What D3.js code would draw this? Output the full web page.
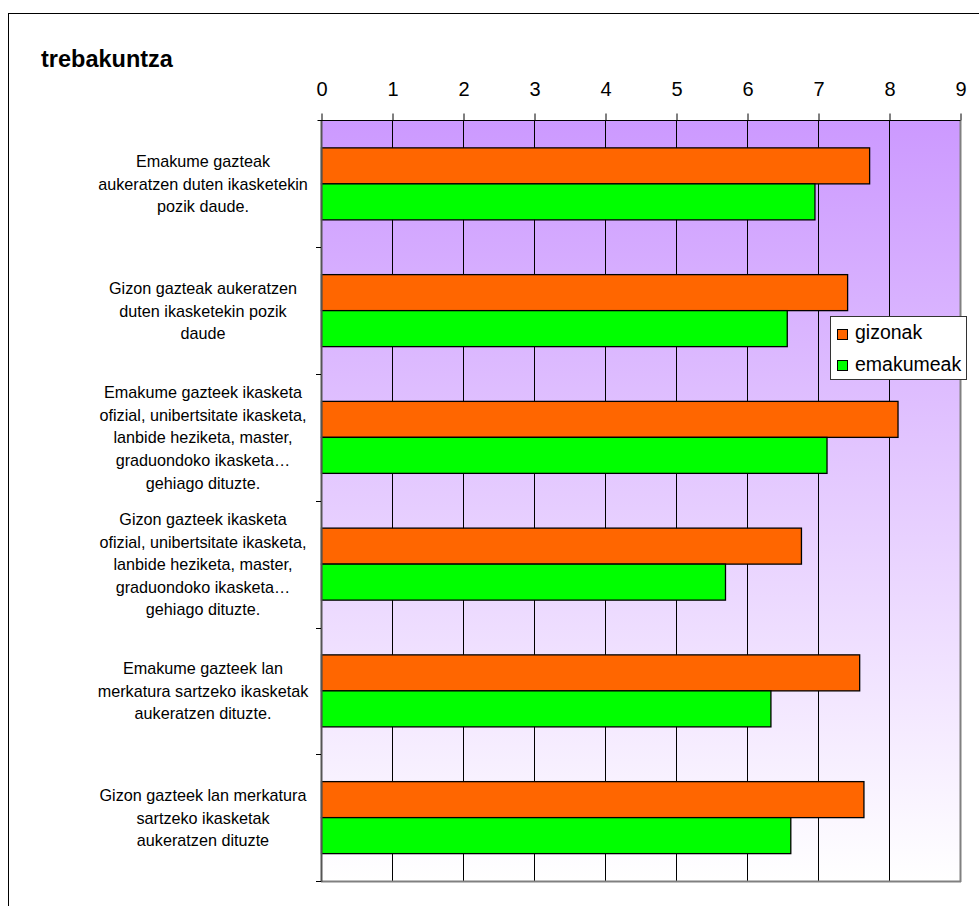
<!DOCTYPE html>
<html><head><meta charset="utf-8">
<script src="https://cdn.jsdelivr.net/npm/d3@7/dist/d3.min.js"></script>
<style>body{margin:0;background:#fff}svg{display:block;font-family:"Liberation Sans",Arial,sans-serif}</style>
</head><body>
<script>
const title = "trebakuntza";
const categories = [
  ["Emakume gazteak","aukeratzen duten ikasketekin","pozik daude."],
  ["Gizon gazteak aukeratzen","duten ikasketekin pozik","daude"],
  ["Emakume gazteek ikasketa","ofizial, unibertsitate ikasketa,","lanbide heziketa, master,","graduondoko ikasketa…","gehiago dituzte."],
  ["Gizon gazteek ikasketa","ofizial, unibertsitate ikasketa,","lanbide heziketa, master,","graduondoko ikasketa…","gehiago dituzte."],
  ["Emakume gazteek lan","merkatura sartzeko ikasketak","aukeratzen dituzte."],
  ["Gizon gazteek lan merkatura","sartzeko ikasketak","aukeratzen dituzte"]
];
const seriesNames = ["gizonak","emakumeak"];
const gizonak   = [7.72, 7.41, 8.12, 6.76, 7.58, 7.64];
const emakumeak = [6.95, 6.56, 7.12, 5.69, 6.33, 6.61];
const xTicks = [0,1,2,3,4,5,6,7,8,9];
const colors = ["#FF6600","#00FF00"];

(function(){
const W = 979, H = 906;
const pL = 321, pR = 960, pT = 120.5, pB = 881;

const svg = d3.select("body").append("svg").attr("width",W).attr("height",H);
const defs = svg.append("defs");
const grad = defs.append("linearGradient").attr("id","bg").attr("x1",0).attr("y1",0).attr("x2",0).attr("y2",1);
grad.append("stop").attr("offset","0%").attr("stop-color","#CC99FF");
grad.append("stop").attr("offset","100%").attr("stop-color","#FFFFFF");

// outer frame
svg.append("rect").attr("x",8.5).attr("y",13.5).attr("width",1200).attr("height",1200)
  .attr("fill","none").attr("stroke","#000").attr("stroke-width",1);

svg.append("text").attr("x",41).attr("y",67).text(title)
  .attr("font-weight","bold").attr("font-size",23.5).attr("fill","#000");

const x = d3.scaleLinear().domain([0,9]).range([pL,pR]);
const idx = categories.map((d,i)=>i);
const y = d3.scaleBand().domain(idx).range([pT,pB]).paddingInner(0).paddingOuter(0);

// background
svg.append("rect").attr("x",pL).attr("y",pT).attr("width",pR-pL).attr("height",pB-pT).attr("fill","url(#bg)");

// gridlines
svg.append("g").selectAll("line").data(xTicks.filter(t=>t>0 && t<9)).join("line")
  .attr("x1",d=>Math.round(x(d))+0.5).attr("x2",d=>Math.round(x(d))+0.5)
  .attr("y1",pT).attr("y2",pB).attr("stroke","#000").attr("stroke-width",1);

// plot border right & bottom
svg.append("line").attr("x1",pR+0.5).attr("x2",pR+0.5).attr("y1",pT).attr("y2",pB+1).attr("stroke","#808080").attr("stroke-width",2);
svg.append("line").attr("x1",pL).attr("x2",pR+1).attr("y1",pB+0.5).attr("y2",pB+0.5).attr("stroke","#808080").attr("stroke-width",2);

// bars
const barH = 36, groupOff = (y.bandwidth() - 2*barH)/2;
const data = [gizonak, emakumeak];
data.forEach((vals,s)=>{
  svg.append("g").selectAll("rect").data(vals).join("rect")
    .attr("x",pL+0.5)
    .attr("y",(d,i)=>y(i)+groupOff+s*barH)
    .attr("width",d=>x(d)-pL)
    .attr("height",barH)
    .attr("fill",colors[s]).attr("stroke","#000").attr("stroke-width",1.3);
});

// left axis
svg.append("line").attr("x1",pL+0.5).attr("x2",pL+0.5).attr("y1",pT).attr("y2",pB+1).attr("stroke","#555").attr("stroke-width",2);
const yBounds = idx.map(i=>y(i)).concat([pB]);
svg.append("g").selectAll("line").data(yBounds.slice(1)).join("line")
  .attr("x1",pL-5).attr("x2",pL).attr("y1",d=>Math.round(d)+0.5).attr("y2",d=>Math.round(d)+0.5)
  .attr("stroke","#000");

// top axis
const xAxis = d3.axisTop(x).tickValues(xTicks).tickSize(7).tickPadding(18).tickFormat(d3.format("d"));
const gx = svg.append("g").attr("transform",`translate(0.5,${pT})`).call(xAxis);
gx.select(".domain").attr("d",`M${pL-4},0H${pR}`).attr("stroke","#000");
gx.selectAll(".tick line").attr("stroke","#000");
gx.selectAll("text").attr("font-size",20).attr("fill","#000").attr("font-family","Liberation Sans, Arial, sans-serif");

// category labels
const lab = svg.append("g");
categories.forEach((lines,i)=>{
  const cy = y(i)+y.bandwidth()/2;
  const lh = 22.6;
  const t = lab.append("text").attr("text-anchor","middle").attr("font-size",16.2).attr("fill","#000");
  lines.forEach((ln,k)=>{
    t.append("tspan").attr("x",203).attr("y",cy + (k-(lines.length-1)/2)*lh + 6).text(ln);
  });
});

// legend
const lg = svg.append("g");
lg.append("rect").attr("x",830.5).attr("y",316.5).attr("width",136).attr("height",63)
  .attr("fill","#fff").attr("stroke","#333").attr("stroke-width",1);
seriesNames.forEach((n,s)=>{
  lg.append("rect").attr("x",837.5).attr("y",329.5+s*31).attr("width",10).attr("height",10)
    .attr("fill",colors[s]).attr("stroke","#000");
  lg.append("text").attr("x",855).attr("y",339+s*32).attr("font-size",19.5).attr("fill","#000").text(n);
});
})();
</script>
</body></html>
